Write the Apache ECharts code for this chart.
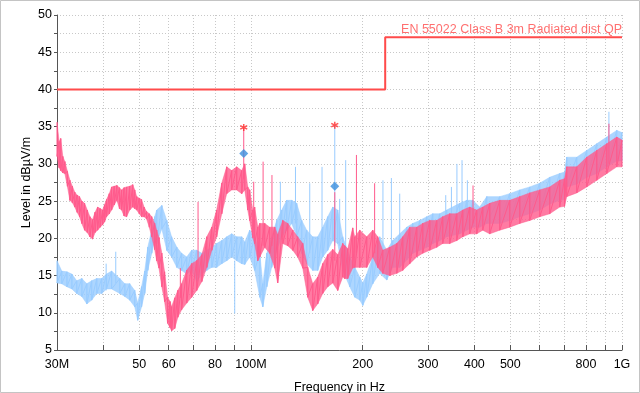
<!DOCTYPE html>
<html><head><meta charset="utf-8">
<script src="https://cdn.jsdelivr.net/npm/echarts@6/dist/echarts.min.js"></script>
<style>html,body{margin:0;padding:0;background:#fff}#c{width:640px;height:393px}</style>
</head><body><div id="c"></div>
<script>
// ---- axis ticks (MHz) ----
const xTickFreqs = [30,40,50,60,70,80,90,100,200,300,400,500,600,700,800,900,1000];
const xLabelFreqs = [30,50,60,80,100,200,300,400,500,800,1000];
const xLabelTexts = ['30M','50','60','80','100M','200','300','400','500','800','1G'];

// ---- limit line ----
const limitName = 'EN 55022 Class B 3m Radiated dist QP';
const limitFreq = [30, 230, 230, 1000];
const limitLevel = [40, 40, 47, 47];

// ---- pink trace (envelope) ----
const pinkFreq = [30,30.4,30.7,31.1,31.5,32.0,32.5,33.0,33.5,34.0,
  34.5,35.0,35.6,36.2,36.8,37.4,38.0,38.6,39.2,39.8,
  40.3,40.8,41.5,42.1,42.8,43.5,44.2,44.8,45.5,46.2,
  47.1,48.0,48.6,49.2,50.0,50.7,51.5,52.3,53.2,54.0,
  55.0,55.7,56.5,57.5,58.5,59.6,60.5,61.1,62.3,63.5,
  65.0,67.1,69.2,71.4,73.7,76.0,78.4,80.8,83.4,86.0,
  88.7,91.5,94.4,96.2,98.0,99.2,101.1,102.3,104.3,105.6,
  108.9,112.3,115.9,118.0,121.8,125.6,129.6,133.6,137.9,142.2,
  146.7,151.3,156.1,161.0,166.1,171.3,176.7,178.9,182.3,188.0,
  190.4,196.4,205.1,212.9,219.6,226.5,236.6,247.1,256.4,267.8,
  279.7,290.3,303.2,316.6,328.6,343.2,358.5,372.1,388.6,405.8,
  421.3,440.0,468.2,498.1,530.0,563.9,600.0,638.4,679.3,700.0,
  709.5,755.0,803.2,854.8,909.5,967.8,1000];
const pinkHi = [35.6,33.0,33.4,31.0,30.3,29.0,27.8,27.0,26.2,25.8,
  25.6,25.0,24.7,23.8,22.9,22.5,23.5,24.2,24.0,23.8,
  24.5,25.2,26.0,26.9,27.0,27.1,26.8,26.5,26.8,26.9,
  27.0,27.2,26.5,25.6,25.4,25.2,24.2,23.6,23.3,22.9,
  22.0,21.1,20.1,18.0,15.5,12.1,11.5,10.8,12.0,13.0,
  13.9,15.7,16.6,17.0,17.8,20.2,21.5,23.8,27.4,29.6,
  29.1,29.6,29.1,30.0,26.9,26.5,23.8,24.2,21.5,22.0,
  22.0,21.5,21.5,20.5,22.4,22.0,21.1,20.2,19.3,16.1,
  13.9,14.8,16.6,17.8,18.5,17.8,19.3,19.0,18.6,21.4,
  20.2,21.1,20.2,21.1,20.2,18.4,18.8,19.3,20.2,21.5,
  21.5,22.0,22.4,22.4,22.9,23.3,23.3,23.8,24.2,23.8,
  24.2,24.7,25.1,25.1,25.6,26.1,26.5,26.9,27.8,28.0,
  29.6,29.6,30.9,31.8,32.7,33.6,33.2];
const pinkLo = [31.0,29.5,29.1,28.8,28.7,27.0,25.1,24.8,24.2,23.5,
  22.9,22.0,21.1,20.8,20.2,19.9,20.8,21.1,21.5,21.8,
  22.2,22.9,23.3,23.8,24.5,25.1,24.0,23.8,23.0,22.9,
  23.8,24.2,24.0,23.8,23.3,22.9,22.9,22.6,21.5,20.2,
  18.5,17.0,16.0,13.5,11.5,8.6,8.0,7.6,7.9,9.4,
  10.4,11.3,12.1,13.0,14.2,16.1,18.4,20.2,23.3,26.0,
  26.5,26.5,26.0,26.5,23.8,22.4,20.1,19.3,17.0,17.5,
  18.8,18.0,16.0,14.0,19.3,19.0,18.4,17.5,16.0,12.1,
  10.3,11.2,12.6,13.5,14.0,13.0,14.8,14.6,14.6,16.0,
  16.1,16.1,16.1,17.5,16.1,15.3,15.0,15.3,15.7,16.6,
  17.5,18.0,18.4,18.8,19.3,19.3,19.7,20.2,20.6,20.6,
  21.1,20.6,21.1,21.5,22.0,22.4,22.9,23.3,24.2,24.3,
  25.6,26.1,26.9,27.8,28.7,29.6,29.6];
const pinkSpikeFreq = [64.5,72.0,95.6,101.7,107.8,113.9,168.2,192.4,215.4,396.7,922];
const pinkSpikeBase = [12,15,28,22,19,19,17,18,18,22,30];
const pinkSpikeTop  = [16.0,24.9,34.9,27.6,30.3,28.5,26.2,31.2,27.4,27.1,35.4];

// ---- blue trace ----
const blueFreq = [30,30.9,31.9,32.9,33.9,35.0,36.1,37.2,38.4,39.6,
  40.8,42.1,44.3,45.7,47.1,48.6,49.5,50.7,51.7,52.7,
  54.0,55.0,55.7,57.5,59.3,61.1,63.1,65.0,67.1,69.2,
  71.4,73.7,76.0,78.4,80.8,83.4,86.0,88.7,91.5,94.4,
  96.2,99.2,102.3,105.6,107.6,110.3,113.7,117.3,121.0,124.8,
  128.8,132.8,137.0,141.3,146.7,151.3,156.1,161.0,166.1,171.3,
  176.7,184.6,190.4,196.4,200.1,205.1,212.9,222.3,232.2,241.0,
  251.7,262.9,272.9,285.0,297.6,308.9,322.6,336.9,365.2,381.4,
  395.9,413.5,431.9,468.2,498.1,530.0,563.9,600.0,638.4,679.3,
  700.0,709.5,755.0,803.2,854.8,909.5,967.8,1000];
const blueHi = [17.0,15.6,15.5,15.2,14.3,14.6,13.9,14.3,14.6,14.6,
  15.2,15.6,14.6,13.9,13.9,13.0,11.3,13.5,15.6,18.8,
  21.1,22.9,23.8,24.4,22.4,20.2,18.8,18.0,17.5,18.4,
  18.4,18.0,18.4,18.8,19.3,19.7,20.2,20.6,20.2,20.2,
  19.5,21.1,20.2,18.0,13.9,18.0,20.2,22.4,23.8,25.1,
  25.1,24.7,22.4,21.1,20.2,20.2,21.5,22.9,24.2,23.8,
  20.2,17.5,16.1,14.8,14.0,15.2,17.5,20.2,18.4,19.7,
  20.6,21.5,22.0,22.4,22.9,23.3,23.3,23.8,24.7,25.1,
  25.1,24.2,25.6,25.6,26.0,26.5,26.9,27.4,28.2,28.7,
  28.9,30.9,30.9,31.8,32.7,33.6,34.5,34.2];
const blueLo = [14.0,13.9,13.5,13.2,12.6,12.2,11.2,11.7,12.6,12.6,
  13.2,13.2,12.6,12.2,11.7,10.8,9.0,10.8,12.6,15.7,
  18.0,19.7,19.3,21.3,18.4,17.5,16.1,15.7,15.2,15.7,
  14.2,15.2,15.7,16.1,16.1,16.6,17.0,17.5,17.0,16.6,
  16.5,17.5,15.7,12.1,10.8,13.5,16.1,18.4,20.2,21.1,
  22.0,20.2,18.0,16.6,15.7,15.7,17.5,18.4,19.7,19.3,
  15.7,13.5,12.1,11.7,11.0,12.1,13.9,15.3,14.4,16.1,
  16.1,17.1,18.0,18.4,18.8,19.3,19.7,20.2,20.6,21.1,
  21.5,21.5,22.0,22.0,22.4,22.9,23.3,23.8,24.6,25.1,
  25.2,26.9,27.3,28.2,28.7,29.6,30.4,30.4];
const blueSpikeFreq = [40.7,43.2,90.4,120,131.8,144,155.4,168.2,173.4,180,226.8,239,251.7,334.9,346.9,359,370.5,383,922];
const blueSpikeBase = [13,14,17,21,22,18,18,19,19,16,16,16,18,21,21,21,21,22,31];
const blueSpikeTop  = [16.6,18.2,9.9,27.6,29.6,27.4,29.6,35.2,25.3,30.5,27.8,28.1,26.0,25.8,26.9,30.0,30.5,27.8,37.0];

// ---- final measurement markers ----
const qpFreq = [95.6, 168.2];
const qpLevel = [34.9, 35.2];
const avgFreq = [95.6, 168.2];
const avgLevel = [31.4, 27.0];

const PINK = '#ff5a8c', BLUE = '#99ccff', RED = '#ff4b4b';
const L = Math.log10;
const FONT = 'Liberation Sans, Arial, sans-serif';

function zig(freq, hi, lo) {
  const out = [];
  for (let i = 0; i < freq.length; i++) { out.push([L(freq[i]), hi[i]]); out.push([L(freq[i]), lo[i]]); }
  return out;
}
function spikes(freq, base, top) {
  const out = [];
  for (let i = 0; i < freq.length; i++) { const x = L(freq[i]); out.push([x, base[i]], [x, top[i]], [x, '-']); }
  return out;
}
// band between lo and hi drawn as polygons through the axis scales
function bandSeries(name, freq, hi, lo, color, z) {
  const segs = [];
  for (let i = 0; i < freq.length - 1; i++) {
    segs.push([L(freq[i]), hi[i], lo[i], L(freq[i + 1]), hi[i + 1], lo[i + 1]]);
  }
  return [
    { type: 'custom', name: name + 'Band', data: segs, silent: true, z: z, clip: true,
      encode: { x: [0, 3], y: [1, 2, 4, 5] },
      renderItem: (params, api) => {
        const a = api.coord([api.value(0), api.value(1)]);
        const b = api.coord([api.value(3), api.value(4)]);
        const c = api.coord([api.value(3), api.value(5)]);
        const d = api.coord([api.value(0), api.value(2)]);
        return { type: 'polygon', shape: { points: [a, b, c, d] },
          style: { fill: color, stroke: color, lineWidth: 0.6, opacity: 0.8 } };
      } },
    { type: 'line', name: name + 'Trace', data: zig(freq, hi, lo), symbol: 'none',
      lineStyle: { color: color, width: 1 }, silent: true, z: z }
  ];
}

const chart = echarts.init(document.getElementById('c'), null, { renderer: 'canvas' });
const xLabelMap = {};
xLabelFreqs.forEach((f, i) => { xLabelMap[L(f).toFixed(6)] = xLabelTexts[i]; });

const option = {
  animation: false,
  backgroundColor: '#fff',
  textStyle: { fontFamily: FONT },
  graphic: [{ type: 'rect', shape: { x: 0.5, y: 0.5, width: 639, height: 392 },
    style: { fill: 'none', stroke: '#c4c4c4', lineWidth: 1 }, silent: true }],
  grid: { left: 57, right: 18, top: 15, bottom: 43, containLabel: false, outerBoundsMode: 'none' },
  xAxis: {
    type: 'value', min: L(30), max: 3,
    name: 'Frequency in Hz', nameLocation: 'middle', nameGap: 31, nameMoveOverlap: false,
    nameTextStyle: { color: '#000', fontSize: 12.5, fontFamily: FONT },
    axisLine: { show: true, lineStyle: { color: '#555', width: 1 } },
    axisTick: { show: true, inside: true, length: 5, customValues: xTickFreqs.map(L), lineStyle: { color: '#555' } },
    axisLabel: { customValues: xLabelFreqs.map(L), color: '#000', fontSize: 12.5, margin: 8, fontFamily: FONT,
      formatter: v => xLabelMap[v.toFixed(6)] || '' },
    splitLine: { show: true, lineStyle: { color: '#c8c8c8', type: [1, 2], width: 1 } }
  },
  yAxis: {
    type: 'value', min: 5, max: 50, interval: 5,
    name: 'Level in dBµV/m', nameLocation: 'middle', nameGap: 24, nameRotate: 90, nameMoveOverlap: false,
    nameTextStyle: { color: '#000', fontSize: 12.5, fontFamily: FONT },
    axisLine: { show: true, lineStyle: { color: '#555', width: 1 } },
    axisTick: { show: true, length: 3, lineStyle: { color: '#555' } },
    minorTick: { show: true, splitNumber: 2, length: 3, lineStyle: { color: '#555' } },
    axisLabel: { color: '#000', fontSize: 12.5, margin: 5, fontFamily: FONT },
    splitLine: { show: true, lineStyle: { color: '#c8c8c8', type: [1, 2], width: 1 } },
    minorSplitLine: { show: true, lineStyle: { color: '#c8c8c8', type: [1, 2], width: 1 } }
  },
  series: [
    ...bandSeries('blue', blueFreq, blueHi, blueLo, BLUE, 2),
    { type: 'line', name: 'blueSpikes', data: spikes(blueSpikeFreq, blueSpikeBase, blueSpikeTop), symbol: 'none',
      connectNulls: false, lineStyle: { color: BLUE, width: 1 }, silent: true, z: 2 },
    ...bandSeries('pink', pinkFreq, pinkHi, pinkLo, PINK, 3),
    { type: 'line', name: 'pinkSpikes', data: spikes(pinkSpikeFreq, pinkSpikeBase, pinkSpikeTop), symbol: 'none',
      connectNulls: false, lineStyle: { color: PINK, width: 1 }, silent: true, z: 3 },
    { type: 'line', name: 'limit', symbol: 'none', z: 4,
      lineStyle: { color: RED, width: 2 },
      data: limitFreq.map((f, i) => [L(f), limitLevel[i]]) },
    { type: 'scatter', name: 'limitLabel', z: 4, symbol: 'circle', symbolSize: 1,
      itemStyle: { color: 'rgba(0,0,0,0)' }, silent: true,
      label: { show: true, position: 'top', align: 'right', distance: 1, formatter: limitName,
        color: RED, fontSize: 12.5, fontFamily: FONT },
      data: [[L(limitFreq[limitFreq.length - 1]), limitLevel[limitLevel.length - 1]]] },
    { type: 'scatter', name: 'QP', z: 5, symbol: 'path://M5,0L5,10M0.67,2.5L9.33,7.5M0.67,7.5L9.33,2.5',
      symbolSize: 7, itemStyle: { color: '#ff2a2a', borderColor: '#ff2a2a', borderWidth: 1.5 },
      data: qpFreq.map((f, i) => [L(f), qpLevel[i]]) },
    { type: 'scatter', name: 'AV', z: 5, symbol: 'diamond', symbolSize: 9,
      itemStyle: { color: '#3b8fdd' },
      data: avgFreq.map((f, i) => [L(f), avgLevel[i]]) }
  ]
};
chart.setOption(option);
</script></body></html>
